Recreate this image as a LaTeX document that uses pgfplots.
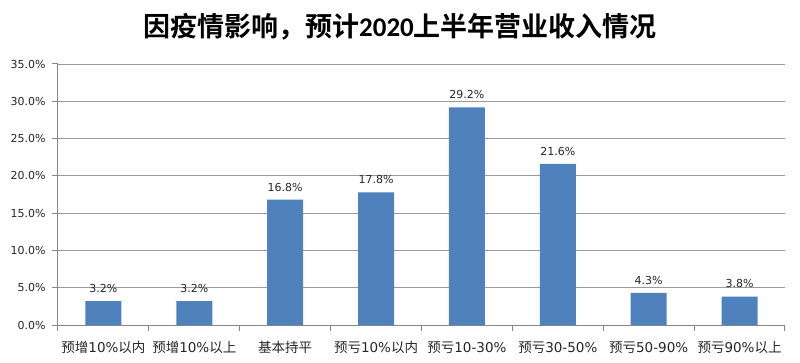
\documentclass[border=0pt]{standalone}
\usepackage{fontspec}
\setmainfont{DejaVu Sans}
\newfontfamily\cjk{Noto Sans CJK SC}
\newfontfamily\cjkb{Noto Sans CJK SC Bold}
\newfontfamily\carl{Carlito}
\usepackage{pgfplots}
\pgfplotsset{compat=1.18}
\definecolor{barblue}{HTML}{4F81BD}
\definecolor{gridgray}{HTML}{9A9A9A}
\definecolor{axgray}{HTML}{868686}
\definecolor{txt}{HTML}{262626}
\begin{document}
\begin{tikzpicture}[x=1pt,y=1pt]
\useasboundingbox (0,0) rectangle (800,362);
\node[font=\fontsize{27}{29}\selectfont, text=black] at (400,335) {{\cjkb 因疫情影响，预计}{\carl\bfseries 2020}{\cjkb 上半年营业收入情况}};
\begin{axis}[at={(58pt,37pt)}, anchor=south west, scale only axis,
  width=727pt, height=261pt,
  xmin=-0.5, xmax=7.5, ymin=0, ymax=35,
  ybar, bar width=36pt,
  axis x line*=bottom, axis y line*=left,
  axis line style={axgray, line width=1pt},
  ytick={0,5,...,35},
  yticklabels={0.0\%,5.0\%,10.0\%,15.0\%,20.0\%,25.0\%,30.0\%,35.0\%},
  yticklabel style={font=\fontsize{11}{12}\selectfont, text=txt, xshift=-3pt},
  ymajorgrids, grid style={gridgray, line width=0.9pt},
  xtick={0,...,7},
  xticklabels={{\cjk 预增}10\%{\cjk 以内},{\cjk 预增}10\%{\cjk 以上},{\cjk 基本持平},{\cjk 预亏}10\%{\cjk 以内},{\cjk 预亏}10-30\%,{\cjk 预亏}30-50\%,{\cjk 预亏}50-90\%,{\cjk 预亏}90\%{\cjk 以上}},
  xticklabel style={font=\fontsize{13.5}{14}\selectfont, text=txt, yshift=-7pt},
  major x tick style={draw=none},
  minor xtick={-0.5,0.5,...,7.5},
  minor x tick style={axgray, line width=1pt},
  major y tick style={axgray, line width=1pt},
  tick align=outside,
  major tick length=6pt, minor tick length=6pt,
  nodes near coords={\pgfmathprintnumber[fixed,fixed zerofill,precision=1,assume math mode=true]{\pgfplotspointmeta}\%},
  nodes near coords style={font=\fontsize{11}{12}\selectfont, text=txt, yshift=5pt},
  point meta=y,
  clip=false,
]
\addplot[fill=barblue, draw=none] coordinates {(0,3.2) (1,3.2) (2,16.8) (3,17.8) (4,29.2) (5,21.6) (6,4.3) (7,3.8)};
\end{axis}
\end{tikzpicture}
\end{document}
